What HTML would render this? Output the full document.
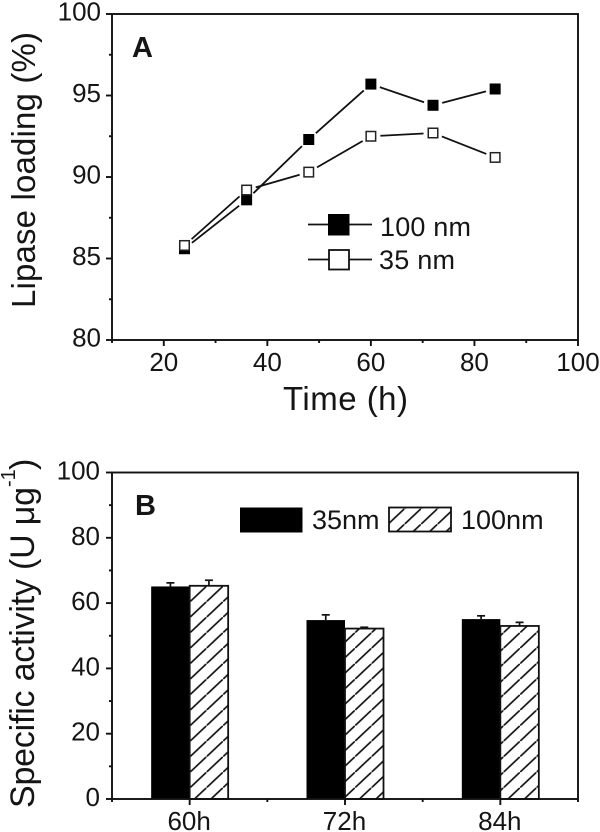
<!DOCTYPE html>
<html>
<head>
<meta charset="utf-8">
<title>Lipase loading and specific activity</title>
<style>
html,body{margin:0;padding:0;background:#fff;width:600px;height:832px;overflow:hidden}
svg{display:block}
text{font-family:"Liberation Sans",sans-serif;fill:#151515}
</style>
</head>
<body>
<svg id="chart" xmlns="http://www.w3.org/2000/svg" width="600" height="832" viewBox="0 0 600 832">
  <defs>
    <pattern id="hatch" patternUnits="userSpaceOnUse" width="16.5" height="15.5" x="190" y="12.7">
      <rect width="16.5" height="15.5" fill="#fff"/>
      <line x1="-2" y1="17.38" x2="18.5" y2="-1.88" stroke="#111" stroke-width="1.7"/>
    </pattern>
  </defs>
  <g id="panel-a">
    <text x="132" y="57" font-size="29" font-weight="bold">A</text>
    <text transform="translate(35,308) rotate(-90)" font-size="33" textLength="276" lengthAdjust="spacing">Lipase loading (%)</text>
    <text x="283" y="410" font-size="33" textLength="125" lengthAdjust="spacing">Time (h)</text>
    <g>
      <line x1="308" x2="372" y1="224.5" y2="224.5" stroke="#111" stroke-width="1.8"/>
      <rect x="328" y="214" width="21.5" height="21.5" fill="#000"/>
      <text x="380" y="236" font-size="27" textLength="91" lengthAdjust="spacing">100 nm</text>
      <line x1="308" x2="372" y1="259.5" y2="259.5" stroke="#111" stroke-width="1.8"/>
      <rect x="329" y="250" width="20" height="19.5" fill="#fff" stroke="#111" stroke-width="1.8"/>
      <text x="379" y="269" font-size="27" textLength="76" lengthAdjust="spacing">35 nm</text>
    </g>
  </g>
  <g id="panel-b">
    <text x="135" y="515" font-size="29" font-weight="bold">B</text>
    <text transform="translate(34,808) rotate(-90)" font-size="34" textLength="321" lengthAdjust="spacing">Specific activity (U μg</text>
    <text transform="translate(15,487) rotate(-90)" font-size="20">-1</text>
    <text transform="translate(34,470) rotate(-90)" font-size="34">)</text>
    <g>
      <rect x="240" y="507.5" width="62.5" height="25" fill="#000"/>
      <text x="312" y="529" font-size="27">35nm</text>
      <rect x="389" y="507.5" width="62" height="24" fill="url(#hatch)" stroke="#111" stroke-width="1.8"/>
      <text x="461" y="529" font-size="27">100nm</text>
    </g>
  </g>
</svg>
<script>
// Panel A data
const timeHours = [24, 36, 48, 60, 72, 84];
const loading100nm = [85.6, 88.6, 92.3, 95.7, 94.4, 95.4];
const loading35nm = [85.8, 89.2, 90.3, 92.5, 92.7, 91.2];
const xTicksA = [20, 40, 60, 80, 100];
const xMinorTicksA = [10, 30, 50, 70, 90];
const yTicksA = [80, 85, 90, 95, 100];
const yMinorTicksA = [82.5, 87.5, 92.5, 97.5];

// Panel B data
const categoriesB = ['60h', '72h', '84h'];
const activity35nm = [65.1, 54.8, 55.1];
const activity100nm = [65.3, 52.2, 53.0];
const error35nm = [1.1, 1.6, 1.0];
const error100nm = [1.7, 0.4, 1.1];
const yTicksB = [0, 20, 40, 60, 80, 100];
const yMinorTicksB = [10, 30, 50, 70, 90];

const NS = 'http://www.w3.org/2000/svg';
const panelA = document.getElementById('panel-a');
const panelB = document.getElementById('panel-b');
const INK = '#111';
const AXIS_W = 1.9;

function make(parent, tag, attrs, txt) {
  const el = document.createElementNS(NS, tag);
  for (const k in attrs) el.setAttribute(k, attrs[k]);
  if (txt !== undefined) el.textContent = txt;
  parent.appendChild(el);
  return el;
}

const L = 112, R = 578;
const TA = 14, BA = 340;
const TB = 472.5, BB = 799;
const xA = v => L + (v - 10) / 90 * (R - L);
const yA = v => BA - (v - 80) / 20 * (BA - TA);
const yB = v => BB - v / 100 * (BB - TB);
const catStep = (R - L) / 3;
const xB = i => L + catStep * (i + 0.5);
const BAR_W = 38.5;

function seg(parent, x1, y1, x2, y2, w) {
  return make(parent, 'line', {x1, y1, x2, y2, stroke: INK, 'stroke-width': w || AXIS_W});
}

// ---- Panel A ----
const frameA = make(panelA, 'rect', {x: L, y: TA, width: R - L, height: BA - TA, fill: 'none', stroke: INK, 'stroke-width': AXIS_W});



xTicksA.forEach(v => {
  const t = seg(panelA, xA(v), BA, xA(v), BA + 6);
  
  
  const lab = make(panelA, 'text', {x: xA(v), y: 371, 'font-size': 26, 'text-anchor': 'middle'}, String(v));
  
  
});
xMinorTicksA.forEach(v => {
  const t = seg(panelA, xA(v), BA, xA(v), BA + 3);
  
  
});
yTicksA.forEach(v => {
  const t = seg(panelA, L - 6, yA(v), L, yA(v));
  
  
  const lab = make(panelA, 'text', {x: 101, y: yA(v) + 6.5, 'font-size': 26, 'text-anchor': 'end'}, String(v));
  
  
});
yMinorTicksA.forEach(v => {
  const t = seg(panelA, L - 3, yA(v), L, yA(v));
  
  
});

function drawSeries(values, seriesName, filled) {
  const g = make(panelA, 'g', {});
  
  
  const gap = 9.5;
  for (let i = 0; i < values.length - 1; i++) {
    const x1 = xA(timeHours[i]), y1 = yA(values[i]);
    const x2 = xA(timeHours[i + 1]), y2 = yA(values[i + 1]);
    const d = Math.hypot(x2 - x1, y2 - y1);
    const ux = (x2 - x1) / d, uy = (y2 - y1) / d;
    const ln = seg(g, x1 + ux * gap, y1 + uy * gap, x2 - ux * gap, y2 - uy * gap, 1.8);
    
    
  }
  values.forEach((v, i) => {
    const cx = xA(timeHours[i]), cy = yA(v);
    const size = filled ? 11 : 9.5;
    const m = make(g, 'rect', {
      x: cx - size / 2, y: cy - size / 2, width: size, height: size,
      fill: filled ? '#000' : '#fff',
      stroke: filled ? 'none' : '#222',
      'stroke-width': filled ? 0 : 1.5
    });
    
    
  });
}
drawSeries(loading100nm, 'series-100nm', true);
drawSeries(loading35nm, 'series-35nm', false);

// ---- Panel B ----
function drawBar(i, value, err, side, seriesLabel) {
  const left = side < 0 ? xB(i) - BAR_W : xB(i);
  const cx = left + BAR_W / 2;
  const top = yB(value);
  const errTop = yB(value + err);
  const stem = seg(panelB, cx, top, cx, errTop, 1.7);
  
  
  const cap = seg(panelB, cx - 4, errTop, cx + 4, errTop, 1.7);
  
  
  const bar = make(panelB, 'rect', {
    x: left, y: top, width: BAR_W, height: BB - top,
    fill: side < 0 ? '#000' : 'url(#hatch)',
    stroke: side < 0 ? 'none' : INK,
    'stroke-width': side < 0 ? 0 : 1.8
  });
  
  
}
categoriesB.forEach((c, i) => {
  drawBar(i, activity35nm[i], error35nm[i], -1, '35nm');
  drawBar(i, activity100nm[i], error100nm[i], 1, '100nm');
  const t = seg(panelB, xB(i), BB, xB(i), BB + 6);
  
  
  const lab = make(panelB, 'text', {x: xB(i) - 0.5, y: 830, 'font-size': 26, 'text-anchor': 'middle'}, c);
  
  
});
categoriesB.concat(['']).forEach((c, i) => {
  const mx = L + catStep * i;
  const t = seg(panelB, mx, BB, mx, BB + 3);
  
  
});
const frameB = make(panelB, 'rect', {x: L, y: TB, width: R - L, height: BB - TB, fill: 'none', stroke: INK, 'stroke-width': AXIS_W});


yTicksB.forEach(v => {
  const t = seg(panelB, L - 6, yB(v), L, yB(v));
  
  
  const lab = make(panelB, 'text', {x: 100, y: yB(v) + 7, 'font-size': 26, 'text-anchor': 'end'}, String(v));
  
  
});
yMinorTicksB.forEach(v => {
  const t = seg(panelB, L - 3, yB(v), L, yB(v));
  
  
});
</script>
</body>
</html>
